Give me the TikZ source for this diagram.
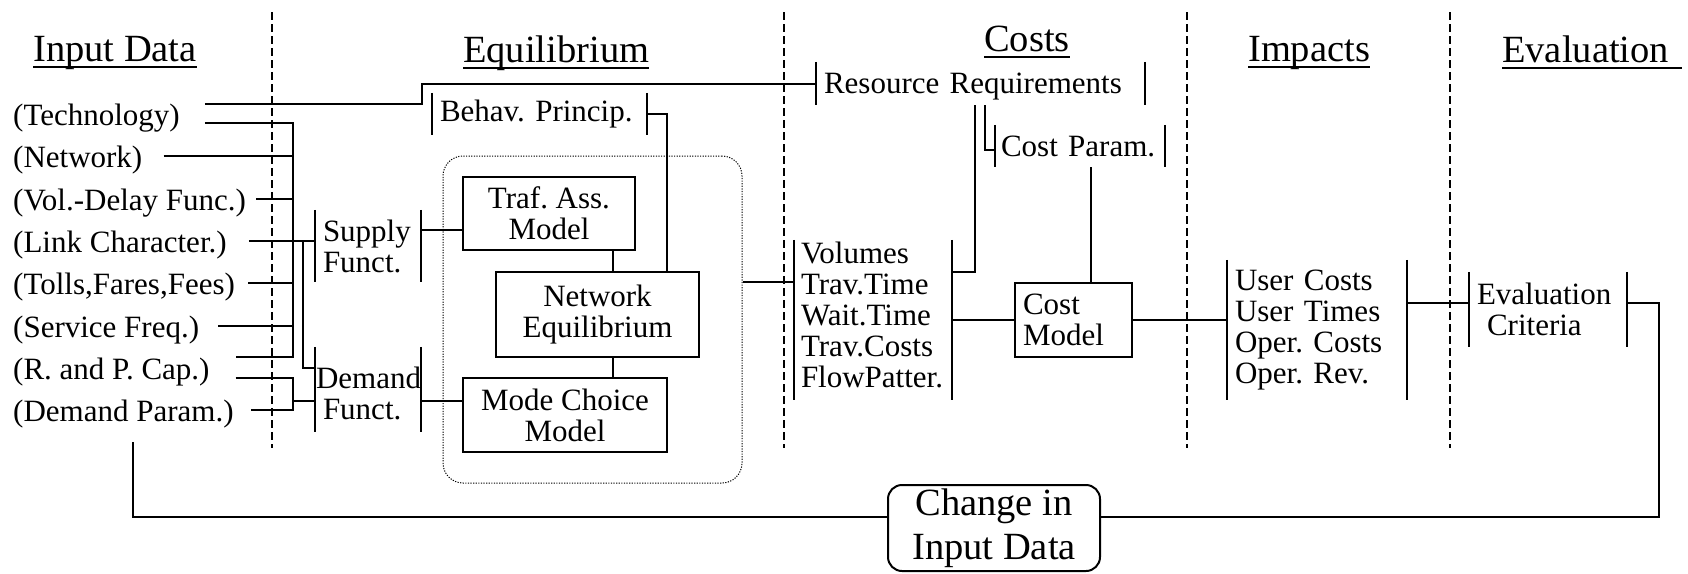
\documentclass[tikz,border=0pt]{standalone}
\usepackage{fontspec}
\setmainfont{Liberation Serif}
\usetikzlibrary{calc}
\frenchspacing
\newcommand\diagbody{\fontsize{31}{31}\selectfont}
\newcommand\diagtitle{\fontsize{38.5}{44}\selectfont}
\begin{document}
\begin{tikzpicture}[x=1pt,y=-1pt,
  every node/.style={font=\diagbody},
  wire/.style={line width=2pt},
  box/.style={draw, line width=2.2pt, inner sep=0pt, align=center},
  brk/.style={inner ysep=0pt, inner xsep=8pt, align=left},
  ttl/.style={font=\diagtitle, inner sep=0pt, anchor=base west},
  inp/.style={inner sep=0pt, anchor=base west},
  sep/.style={line width=1.2pt, dash pattern=on 8pt off 4pt},
  uline/.style={line width=1.8pt}]
\useasboundingbox (0,0) rectangle (1688,573);

% column separators
\foreach \x in {272,784,1187,1450} \draw[sep] (\x,12) -- (\x,448);

% column titles
\node[ttl] (tIn) at (33,61) {Input Data};
\node[ttl] (tEq) at (463,62) {Equilibrium};
\node[ttl] (tCo) at (984,51) {Costs};
\node[ttl] (tIm) at (1248,61) {Impacts};
\node[ttl] (tEv) at (1502,62) {Evaluation};
\foreach \t in {tIn,tEq,tCo,tIm}
  \draw[uline] ($(\t.base west)+(0,6)$) -- ($(\t.base east)+(0,6)$);
\draw[uline] ($(tEv.base west)+(0,6)$) -- ($(tEv.base east)+(13,6)$);

% input data
\node[inp] (tech) at (13,125.5) {(Technology)};
\node[inp] (netw) at (13,167.8) {(Network)};
\node[inp] (vdf)  at (13,210.1) {(Vol.-Delay Func.)};
\node[inp] (link) at (13,252.4) {(Link Character.)};
\node[inp] (toll) at (13,294.7) {(Tolls,Fares,Fees)};
\node[inp] (serv) at (13,337.0) {(Service Freq.)};
\node[inp] (rpc)  at (13,379.3) {(R. and P. Cap.)};
\node[inp] (dpar) at (13,421.6) {(Demand Param.)};

% equilibrium block
\node[draw, line width=1pt, dash pattern=on 1.2pt off 1.4pt, rounded corners=20pt,
      minimum width=299pt, minimum height=327pt, inner sep=0pt] (frame) at (592.5,319.5) {};
\node[box, minimum width=172pt, minimum height=73pt] (traf) at (549,213.5) {Traf. Ass.\\Model};
\node[box, minimum width=203pt, minimum height=85pt] (net) at (597.5,314.5) {Network\\Equilibrium};
\node[box, minimum width=204pt, minimum height=74pt] (mode) at (565,415) {Mode Choice\\Model};

% bracketed groups
\node[brk, text width=199pt, minimum height=42pt] (behav) at (539.5,114) {Behav. Princip.};
\node[brk, text width=313pt, minimum height=43pt] (res) at (980.5,83.5) {\rule{0pt}{26pt}Resource Requirements};
\node[brk, inner xsep=6pt, text width=158pt, minimum height=42pt] (costp) at (1080,146) {Cost Param.};
\node[brk, text width=90pt, minimum height=72pt] (supply) at (368,246) {Supply\\Funct.};
\node[brk, inner xsep=1pt, text width=104pt, minimum height=85pt] (demand) at (368,389.5)
  {\rule{0pt}{29pt}Demand\\\hspace*{7pt}Funct.};
\node[brk, inner xsep=7pt, text width=144pt, minimum height=160pt] (vol) at (873,320)
  {Volumes\\Trav.Time\\Wait.Time\\Trav.Costs\\FlowPatter.\rule[-11pt]{0pt}{11pt}};
\node[brk, text width=164pt, minimum height=140pt] (user) at (1317,330)
  {User Costs\\User Times\\Oper. Costs\\Oper. Rev.};
\node[brk, text width=142pt, minimum height=75pt] (eval) at (1548,309.5) {Evaluation\\\hspace*{10pt}Criteria};
\foreach \n in {behav,res,costp,supply,demand,vol,user,eval}
  \draw[wire] (\n.north west) -- (\n.south west) (\n.north east) -- (\n.south east);

% cost model
\node[box, align=left, inner xsep=8pt, text width=101pt, minimum height=74pt] (costm) at (1073.5,320) {Cost\\Model};

% change of input data
\node[draw, line width=2pt, rounded corners=14pt, minimum width=212pt, minimum height=86pt,
      inner sep=0pt, font=\diagtitle, align=center] (chg) at (994,528) {Change in\\Input Data};

% wire end points beside the input texts
\coordinate (t1) at ($(tech.base east)+(25,-21.5)$);
\coordinate (t2) at ($(tech.base east)+(25,-2.5)$);
\coordinate (n1) at ($(netw.base east)+(21,-11.5)$);
\coordinate (v1) at ($(vdf.base east)+(10,-11.5)$);
\coordinate (l1) at ($(link.base east)+(22,-11.5)$);
\coordinate (o1) at ($(toll.base east)+(13,-11.5)$);
\coordinate (s1) at ($(serv.base east)+(19,-11.5)$);
\coordinate (r1) at ($(rpc.base east)+(26,-22.3)$);
\coordinate (r2) at ($(rpc.base east)+(26,-1.3)$);
\coordinate (d1) at ($(dpar.base east)+(17,-11.5)$);
\coordinate (bus) at (293,0);
\coordinate (sd) at (303,0);
\coordinate (k1) at (422,0);
\coordinate (vx) at (613,0);
\coordinate (cx) at (1091,0);
\coordinate (dj) at ($(demand.west)+(0,11.5)$);
\coordinate (sp) at ($(supply.east)+(0,-16)$);
\coordinate (fp) at ($(frame.east)+(0,-37.5)$);
\coordinate (e1) at ($(eval.west)+(0,-6.5)$);
\coordinate (e2) at ($(eval.east)+(0,-6.5)$);
\coordinate (fbR) at (1659,517);
\coordinate (fbL) at (133,442);

% input wiring
\draw[wire] (t1) -- (t1 -| k1) |- (res.west);
\draw[wire] (t2) -| (bus |- r1) -- (r1);
\draw[wire] (n1) -- (n1 -| bus);
\draw[wire] (v1) -- (v1 -| bus);
\draw[wire] (l1) -- (l1 -| supply.west);
\draw[wire] (o1) -- (o1 -| bus);
\draw[wire] (s1) -- (s1 -| bus);
\draw[wire] (l1 -| sd) |- ($(demand.north west)+(0,21)$);
\draw[wire] (r2) -| (bus |- d1) -- (d1);
\draw[wire] (bus |- dj) -- (dj);

% equilibrium wiring
\draw[wire] (sp) -- (sp -| traf.west);
\draw[wire] (dj -| demand.east) -- (dj -| mode.west);
\draw[wire] (behav.east) -| ($(net.north)+(69.5,0)$);
\draw[wire] (traf.south -| vx) -- (net.north -| vx);
\draw[wire] (net.south -| vx) -- (mode.north -| vx);
\draw[wire] (fp) -- (fp -| vol.west);

% cost wiring
\draw[wire] ($(res.south)+(-5.5,0)$) |- ($(vol.north east)+(0,32)$);
\draw[wire] ($(res.south)+(4.5,0)$) |- ($(costp.north west)+(0,25)$);
\draw[wire] (costp.south -| cx) -- (costm.north -| cx);
\draw[wire] (vol.east) -- (costm.west);
\draw[wire] (costm.east) -- (costm.east -| user.west);

% impacts, evaluation and feedback loop
\draw[wire] (e1 -| user.east) -- (e1);
\draw[wire] (e2) -| (fbR) -- (fbR -| chg.east);
\draw[wire] (fbR -| chg.west) -| (fbL);
\end{tikzpicture}
\end{document}
